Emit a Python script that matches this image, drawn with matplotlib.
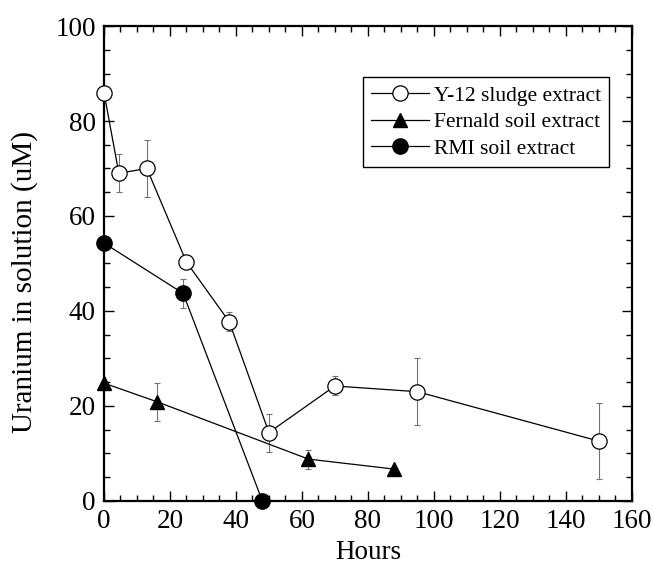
import matplotlib
matplotlib.use("Agg")
import matplotlib.pyplot as plt
from matplotlib.ticker import MultipleLocator

plt.rcParams['font.family'] = ['Liberation Serif', 'DejaVu Serif']

# Y-12 sludge extract
y12_hours = [0, 4.5, 13, 25, 38, 50, 70, 95, 150]
y12_uranium = [86, 69, 70, 50.3, 37.7, 14.4, 24.2, 23, 12.6]
y12_err = [0, 4, 6, 0, 2, 4, 2, 7, 8]

# Fernald soil extract
fern_hours = [0, 16, 62, 88]
fern_uranium = [24.8, 20.9, 8.8, 6.7]
fern_err = [0, 4, 2, 0.5]

# RMI soil extract
rmi_hours = [0, 24, 48]
rmi_uranium = [54.3, 43.7, 0]
rmi_err = [0, 3, 0]

fig = plt.figure(figsize=(6.54, 5.66), dpi=100)
ax = fig.add_axes([0.159, 0.115, 0.807, 0.839])

err_kw = dict(ecolor='0.45', elinewidth=0.8, capsize=2.5, capthick=0.8, zorder=2)

for x, y, e in [(y12_hours, y12_uranium, y12_err),
                (fern_hours, fern_uranium, fern_err),
                (rmi_hours, rmi_uranium, rmi_err)]:
    eb = ax.errorbar(x, y, yerr=e, fmt='none', **err_kw)
    for art in eb.lines[1] + eb.lines[2]:
        art.set_clip_on(False)

ax.plot(y12_hours, y12_uranium, 'o-', color='black', mfc='white', mec='black',
        ms=11, lw=0.9, mew=0.9, label='Y-12 sludge extract', clip_on=False, zorder=3)
ax.plot(fern_hours, fern_uranium, '^-', color='black', ms=10, lw=0.9,
        label='Fernald soil extract', clip_on=False, zorder=3)
ax.plot(rmi_hours, rmi_uranium, 'o-', color='black', ms=11, lw=0.9,
        label='RMI soil extract', clip_on=False, zorder=3)

ax.set_xlim(0, 160)
ax.set_ylim(0, 100)
ax.xaxis.set_major_locator(MultipleLocator(20))
ax.xaxis.set_minor_locator(MultipleLocator(5))
ax.yaxis.set_major_locator(MultipleLocator(20))
ax.yaxis.set_minor_locator(MultipleLocator(5))
ax.tick_params(which='both', direction='in', top=True, right=True, labelsize=19.5, width=1)
ax.tick_params(which='major', length=7, pad=6)
ax.tick_params(which='minor', length=4)
for sp in ax.spines.values():
    sp.set_linewidth(1.6)

ax.set_xlabel('Hours', fontsize=19.5)
ax.xaxis.set_label_coords(0.5, -0.083)
ax.set_ylabel('Uranium in solution (uM)', fontsize=21)
ax.yaxis.set_label_coords(-0.125, 0.46)

leg = ax.legend(loc='upper left', bbox_to_anchor=(0.49, 0.893), fontsize=15.5,
                frameon=True, fancybox=False, edgecolor='black', framealpha=1,
                handlelength=2.7, handletextpad=0.2, borderpad=0.4, labelspacing=0.3,
                borderaxespad=0)
leg.get_frame().set_linewidth(1.0)

fig.savefig('out.png', dpi=100)
